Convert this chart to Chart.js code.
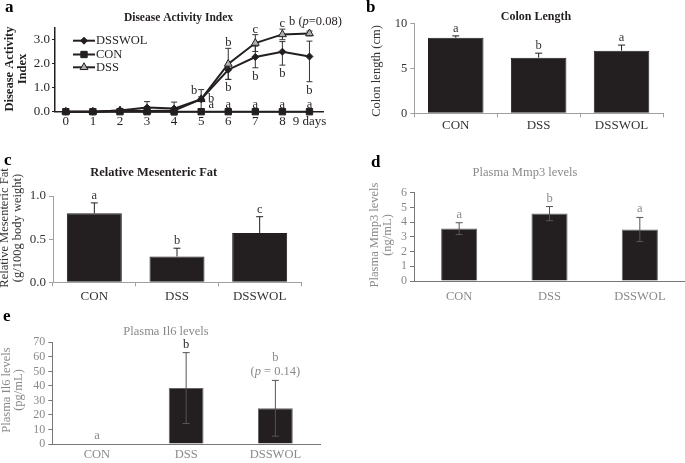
<!DOCTYPE html>
<html>
<head>
<meta charset="utf-8">
<script src="https://cdn.jsdelivr.net/npm/chart.js@4.4.0/dist/chart.umd.min.js"></script>
<style>
  body { margin: 0; background: #fff; width: 685px; height: 463px; position: relative; overflow: hidden; }
  canvas { position: absolute; }
</style>
</head>
<body>
<canvas id="panelA" width="345" height="140" style="left:0px;top:0px"></canvas>
<canvas id="panelB" width="340" height="140" style="left:345px;top:0px"></canvas>
<canvas id="panelC" width="345" height="165" style="left:0px;top:140px"></canvas>
<canvas id="panelD" width="340" height="165" style="left:345px;top:140px"></canvas>
<canvas id="panelE" width="345" height="158" style="left:0px;top:305px"></canvas>
<script>
// ---- data ----
const days = [0, 1, 2, 3, 4, 5, 6, 7, 8, 9];
const daiDSSWOL = [0, 0, 0.05, 0.17, 0.13, 0.52, 1.75, 2.28, 2.5, 2.3];
const daiCON = [0, 0, 0, 0, 0, 0, 0, 0, 0, 0];
const daiDSS = [0, 0, 0.05, 0.03, 0.05, 0.52, 1.99, 2.86, 3.22, 3.26];
const errDSSWOLup = [0, 0, 0.03, 0.25, 0.27, 0.1, 0.2, 0.45, 0.42, 0.64];
const errDSSWOLdown = [0, 0, 0.03, 0.25, 0.27, 0.1, 0.4, 0.45, 0.56, 1.05];
const errDSS = [0, 0, 0.03, 0.03, 0.05, 0.4, 0.65, 0.35, 0.22, 0.1];
const lettersDSS = ['', '', '', '', '', 'b', 'b', 'c', 'c', 'b (_p_=0.08)'];
const lettersDSSWOL = ['', '', '', '', '', 'b', 'b', 'b', 'b', 'b'];
const lettersCON = ['', '', '', '', '', 'a', 'a', 'a', 'a', 'a'];
const daiTicks = [0, 1, 2, 3];

const groups = ['CON', 'DSS', 'DSSWOL'];

const colonLength = [8.4, 6.18, 6.96];
const colonErr = [0.2, 0.5, 0.62];
const colonLetters = ['a', 'b', 'a'];

const fatRel = [0.8, 0.3, 0.57];
const fatErr = [0.12, 0.095, 0.19];
const fatLetters = ['a', 'b', 'c'];

const mmp3 = [3.56, 4.58, 3.5];
const mmp3Err = [0.4, 0.48, 0.82];
const mmp3Letters = ['a', 'b', 'a'];

const il6 = [0, 38.5, 24.6];
const il6Err = [0, 24.4, 19.2];
const il6Letters = ['a', 'b', 'b\n(_p_ = 0.14)'];

// ---- helpers ----
const SERIF = "'Liberation Serif', 'Times New Roman', serif";
const INK = '#231f20';
const GREY = '#8a8a8a';

function fixBox(size) {
  return function (scale) {
    if (scale.isHorizontal()) scale.height = size;
    else scale.width = size;
  };
}

// text with _italic_ parts, centred on x
function drawRich(ctx, str, x, y, size, color, weight) {
  const parts = str.split('_');
  const fontFor = i => [i % 2 ? 'italic' : '', weight || '', size + 'px', SERIF].filter(Boolean).join(' ');
  ctx.save();
  ctx.fillStyle = color;
  ctx.textAlign = 'left';
  ctx.textBaseline = 'alphabetic';
  let total = 0;
  parts.forEach((p, i) => { ctx.font = fontFor(i); total += ctx.measureText(p).width; });
  let cx = x - total / 2;
  parts.forEach((p, i) => { ctx.font = fontFor(i); ctx.fillText(p, cx, y); cx += ctx.measureText(p).width; });
  ctx.restore();
}

function drawVertical(ctx, str, x, y, size, color, weight) {
  ctx.save();
  ctx.translate(x, y);
  ctx.rotate(-Math.PI / 2);
  ctx.font = [weight || '', size + 'px', SERIF].filter(Boolean).join(' ');
  ctx.fillStyle = color;
  ctx.textAlign = 'center';
  ctx.textBaseline = 'middle';
  ctx.fillText(str, 0, 0);
  ctx.restore();
}

function drawLabel(ctx, str, x, y, size, color, weight) {
  ctx.save();
  ctx.font = [weight || '', size + 'px', SERIF].filter(Boolean).join(' ');
  ctx.fillStyle = color;
  ctx.textAlign = 'left';
  ctx.textBaseline = 'alphabetic';
  ctx.fillText(str, x, y);
  ctx.restore();
}

function errBar(ctx, x, yTop, yBot, cap, capBottom, color, width) {
  ctx.save();
  ctx.strokeStyle = color;
  ctx.lineWidth = width;
  ctx.beginPath();
  ctx.moveTo(x, yTop); ctx.lineTo(x, yBot);
  ctx.moveTo(x - cap, yTop); ctx.lineTo(x + cap, yTop);
  if (capBottom) { ctx.moveTo(x - cap, yBot); ctx.lineTo(x + cap, yBot); }
  ctx.stroke();
  ctx.restore();
}

// ---- panel a: Disease Activity Index ----
const seriesA = [
  { label: 'DSSWOL', values: daiDSSWOL, style: 'rectRot', r: 3.5, fill: INK },
  { label: 'CON', values: daiCON, style: 'rect', r: 4.5, fill: INK },
  { label: 'DSS', values: daiDSS, style: 'triangle', r: 4.5, fill: '#b0b0b0' }
];

new Chart(document.getElementById('panelA'), {
  type: 'line',
  data: {
    datasets: seriesA.map(s => ({
      label: s.label,
      data: days.map((d, i) => ({ x: d, y: s.values[i] })),
      borderColor: INK,
      borderWidth: 2,
      pointStyle: s.style,
      pointRadius: s.r,
      pointBackgroundColor: s.fill,
      pointBorderColor: INK,
      pointBorderWidth: 1,
      clip: false
    }))
  },
  options: {
    responsive: false,
    animation: false,
    events: [],
    layout: { padding: { top: 27.7, right: 22, left: 0, bottom: 0 } },
    plugins: { legend: { display: false }, tooltip: { enabled: false } },
    scales: {
      x: {
        type: 'linear', min: -0.4, max: 9.5,
        afterBuildTicks: s => { s.ticks = days.map(v => ({ value: v })); },
        ticks: { callback: v => v === 9 ? '9 days' : String(v), font: { family: SERIF, size: 13 }, color: INK, padding: 2, autoSkip: false, maxRotation: 0, minRotation: 0 },
        grid: { display: false, drawTicks: false },
        border: { color: INK, width: 1.5 },
        afterFit: fixBox(28.3)
      },
      y: {
        min: 0, max: 3.5,
        afterBuildTicks: s => { s.ticks = daiTicks.map(v => ({ value: v })); },
        ticks: { callback: v => v.toFixed(1), font: { family: SERIF, size: 13 }, color: INK, padding: 2, autoSkip: false },
        grid: { drawOnChartArea: false, tickLength: 3, color: INK },
        border: { color: INK, width: 1.5 },
        afterFit: fixBox(55)
      }
    }
  },
  plugins: [{
    id: 'daiExtras',
    beforeDatasetsDraw(chart) {
      const ctx = chart.ctx, xs = chart.scales.x, ys = chart.scales.y;
      days.forEach((d, i) => {
        const px = xs.getPixelForValue(d);
        if (errDSSWOLup[i] || errDSSWOLdown[i]) {
          errBar(ctx, px, ys.getPixelForValue(daiDSSWOL[i] + errDSSWOLup[i]),
            ys.getPixelForValue(daiDSSWOL[i] - errDSSWOLdown[i]), 3, true, '#333', 1);
        }
        if (errDSS[i]) {
          errBar(ctx, px, ys.getPixelForValue(daiDSS[i] + errDSS[i]),
            ys.getPixelForValue(daiDSS[i] - errDSS[i]), 3, true, '#333', 1);
        }
      });
    },
    afterDraw(chart) {
      const ctx = chart.ctx, xs = chart.scales.x, ys = chart.scales.y;
      // letters
      days.forEach((d, i) => {
        const px = xs.getPixelForValue(d);
        if (lettersDSS[i]) {
          const top = ys.getPixelForValue(daiDSS[i] + errDSS[i]);
          if (i === 5) drawRich(ctx, lettersDSS[i], px - 7, top + 4, 12.5, INK);
          else if (i === 9) drawRich(ctx, lettersDSS[i], px + 6, top - 6, 12.5, INK);
          else drawRich(ctx, lettersDSS[i], px, top - 2, 12.5, INK);
        }
        if (lettersDSSWOL[i]) {
          if (i === 5) drawRich(ctx, lettersDSSWOL[i], px + 10, ys.getPixelForValue(daiDSSWOL[i]) + 3, 12.5, INK);
          else drawRich(ctx, lettersDSSWOL[i], px, ys.getPixelForValue(daiDSSWOL[i] - errDSSWOLdown[i]) + 12, 12.5, INK);
        }
        if (lettersCON[i]) {
          drawRich(ctx, lettersCON[i], i === 5 ? px + 10 : px, ys.getPixelForValue(daiCON[i]) - 4, 12.5, INK);
        }
      });
      // legend
      const rows = [40.7, 54.5, 67.3];
      seriesA.forEach((s, k) => {
        ctx.save();
        ctx.strokeStyle = INK;
        ctx.lineWidth = 2;
        ctx.beginPath(); ctx.moveTo(73, rows[k]); ctx.lineTo(95, rows[k]); ctx.stroke();
        ctx.fillStyle = s.fill;
        ctx.lineWidth = 1;
        Chart.helpers.drawPoint(ctx, { pointStyle: s.style, radius: s.r, borderWidth: 1, rotation: 0 }, 84, rows[k]);
        ctx.restore();
        ctx.save();
        ctx.font = '12.5px ' + SERIF;
        ctx.fillStyle = INK;
        ctx.textBaseline = 'middle';
        ctx.fillText(s.label, 96, rows[k] + 0.5);
        ctx.restore();
      });
      drawRich(chart.ctx, 'Disease Activity Index', 178.5, 20.5, 11.5, INK, 'bold');
      drawVertical(ctx, 'Disease Activity', 10, 69, 12.5, INK, 'bold');
      drawVertical(ctx, 'Index', 23, 69, 12.5, INK, 'bold');
      drawLabel(ctx, 'a', 5, 12, 17, '#000', 'bold');
    }
  }]
});

// ---- bar panels ----
function barPanel(id, cfg) {
  return new Chart(document.getElementById(id), {
    type: 'bar',
    data: {
      labels: groups,
      datasets: [{
        data: cfg.values,
        backgroundColor: INK,
        borderColor: cfg.edge,
        borderWidth: 1,
        barPercentage: cfg.barPct,
        categoryPercentage: 1
      }]
    },
    options: {
      responsive: false,
      animation: false,
      events: [],
      layout: { padding: { top: cfg.top, right: cfg.right, left: 0, bottom: 0 } },
      plugins: { legend: { display: false }, tooltip: { enabled: false } },
      scales: {
        x: {
          grid: { display: cfg.sep, drawTicks: cfg.sep, offset: true, drawOnChartArea: false, tickLength: 4, color: cfg.axis },
          border: { color: cfg.axis, width: 1 },
          ticks: { font: { family: SERIF, size: cfg.xSize }, color: cfg.text, padding: cfg.xPad, autoSkip: false, maxRotation: 0 },
          afterFit: fixBox(cfg.bottomH)
        },
        y: {
          min: 0, max: cfg.max,
          afterBuildTicks: s => { s.ticks = cfg.ticks.map(v => ({ value: v })); },
          ticks: { callback: cfg.fmt, font: { family: SERIF, size: cfg.ySize }, color: cfg.text, padding: 3, autoSkip: false },
          grid: { drawOnChartArea: false, tickLength: 4, color: cfg.axis },
          border: { color: cfg.axis, width: 1 },
          afterFit: fixBox(cfg.leftW)
        }
      }
    },
    plugins: [{
      id: id + 'Extras',
      afterDatasetsDraw(chart) {
        const ctx = chart.ctx, ys = chart.scales.y;
        const bars = chart.getDatasetMeta(0).data;
        bars.forEach((bar, i) => {
          const v = cfg.values[i], e = cfg.err[i];
          const top = ys.getPixelForValue(v + e);
          if (e) {
            errBar(ctx, bar.x, top, ys.getPixelForValue(cfg.twoSided ? v - e : v), 3.5, cfg.twoSided, cfg.errColor, 1);
          }
          const lines = cfg.letters[i].split('\n');
          const color = cfg.letterColors ? cfg.letterColors[i] : cfg.text;
          lines.forEach((ln, k) => {
            drawRich(ctx, ln, bar.x, top - cfg.gap - (lines.length - 1 - k) * 14, 12.5, color);
          });
        });
      },
      afterDraw(chart) {
        const ctx = chart.ctx;
        drawRich(ctx, cfg.title[0], cfg.title[1], cfg.title[2], cfg.titleSize, cfg.titleColor, cfg.titleWeight);
        cfg.yTitle.forEach(t => drawVertical(ctx, t[0], t[1], cfg.yTitleY, 12.5, cfg.text));
        drawLabel(ctx, cfg.panel[0], cfg.panel[1], cfg.panel[2], 17, '#000', 'bold');
      }
    }]
  });
}

barPanel('panelB', {
  values: colonLength, err: colonErr, letters: colonLetters,
  max: 10, ticks: [0, 5, 10], fmt: v => String(v),
  leftW: 69.3, right: 22, top: 23.3, bottomH: 26.7,
  barPct: 0.67, sep: true, xPad: 0, xSize: 13, ySize: 12.5, gap: 4,
  twoSided: false, errColor: INK, edge: INK,
  axis: '#a0a0a0', text: '#333',
  title: ['Colon Length', 191, 20], titleSize: 12, titleColor: INK, titleWeight: 'bold',
  yTitle: [['Colon length (cm)', 32]], yTitleY: 71,
  panel: ['b', 21, 12]
});

barPanel('panelC', {
  values: fatRel, err: fatErr, letters: fatLetters,
  max: 1, ticks: [0, 0.5, 1], fmt: v => v.toFixed(1),
  leftW: 53, right: 44, top: 56, bottomH: 22.7,
  barPct: 0.665, sep: true, xPad: 2, xSize: 13, ySize: 13, gap: 4,
  twoSided: false, errColor: INK, edge: INK,
  axis: '#a0a0a0', text: '#333',
  title: ['Relative Mesenteric Fat', 153.7, 36], titleSize: 12.5, titleColor: INK, titleWeight: 'bold',
  yTitle: [['Relative Mesenteric Fat', 5], ['(g/100g body weight)', 18]], yTitleY: 88,
  panel: ['c', 4, 25]
});

barPanel('panelD', {
  values: mmp3, err: mmp3Err, letters: mmp3Letters,
  max: 6, ticks: [0, 1, 2, 3, 4, 5, 6], fmt: v => String(v),
  leftW: 69, right: 0, top: 52.7, bottomH: 24,
  barPct: 0.4, sep: false, xPad: 8, xSize: 12.5, ySize: 12, gap: 5,
  twoSided: true, errColor: '#555', edge: '#666',
  axis: '#777', text: GREY,
  title: ['Plasma Mmp3 levels', 180, 36], titleSize: 12.5, titleColor: GREY, titleWeight: '',
  yTitle: [['Plasma Mmp3 levels', 29.5], ['(ng/mL)', 42.5]], yTitleY: 95,
  panel: ['d', 26, 27]
});

barPanel('panelE', {
  values: il6, err: il6Err, letters: il6Letters, letterColors: [GREY, INK, GREY],
  max: 70, ticks: [0, 10, 20, 30, 40, 50, 60, 70], fmt: v => String(v),
  leftW: 52.3, right: 25, top: 37.3, bottomH: 19,
  barPct: 0.39, sep: false, xPad: 3, xSize: 12.5, ySize: 12, gap: 5,
  twoSided: true, errColor: '#555', edge: '#666',
  axis: '#777', text: GREY,
  title: ['Plasma Il6 levels', 166, 30], titleSize: 12.5, titleColor: GREY, titleWeight: '',
  yTitle: [['Plasma Il6 levels', 7], ['(pg/mL)', 19]], yTitleY: 85,
  panel: ['e', 3, 16]
});
</script>
</body>
</html>
